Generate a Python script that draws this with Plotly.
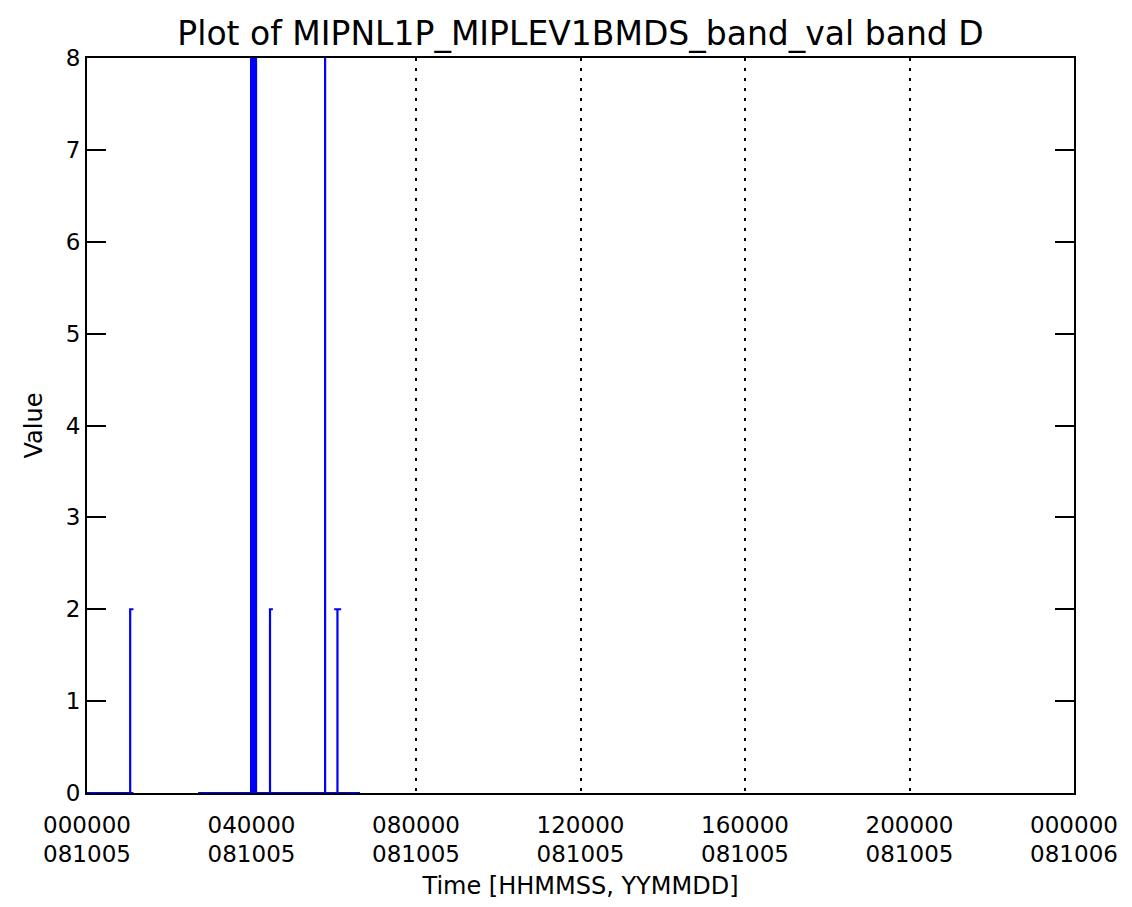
import plotly.graph_objects as go

# band value samples, time in hours since 081005 000000 (None = data gap)
time_hours = [
    0.0, 1.05, 1.05, 1.13, 1.05, 1.05, 1.13,
    None,
    2.70, 3.99, 3.99, 4.03, 4.03, 4.07, 4.07, 4.11, 4.11,
    4.45, 4.45, 4.52, 4.45, 4.45,
    5.79, 5.79, 5.79,
    6.09, 6.09, 6.01, 6.18, 6.09, 6.09, 6.64,
]
band_values = [
    0, 0, 2, 2, 2, 0, 0,
    None,
    0, 0, 8, 8, 0, 0, 8, 8, 0,
    0, 2, 2, 2, 0,
    0, 8, 0,
    0, 2, 2, 2, 2, 0, 0,
]

tick_hours = [0, 4, 8, 12, 16, 20, 24]
tick_times = ["000000", "040000", "080000", "120000", "160000", "200000", "000000"]
tick_dates = ["081005", "081005", "081005", "081005", "081005", "081005", "081006"]
value_ticks = [0, 1, 2, 3, 4, 5, 6, 7, 8]

FONT = "DejaVu Sans"

fig = go.Figure()
fig.add_trace(
    go.Scatter(
        x=time_hours,
        y=band_values,
        mode="lines",
        line={"color": "#0000ff", "width": 2.2},
        connectgaps=False,
        showlegend=False,
        hoverinfo="skip",
    )
)
# invisible helper so the date row axis gets drawn
fig.add_trace(
    go.Scatter(
        x=tick_hours,
        y=[0] * len(tick_hours),
        xaxis="x2",
        mode="markers",
        marker={"opacity": 0},
        showlegend=False,
        hoverinfo="skip",
    )
)

# page body adds an 8px offset, margins are compensated for it
fig.update_layout(
    width=1132,
    height=907,
    paper_bgcolor="white",
    plot_bgcolor="white",
    font={"family": FONT, "color": "black"},
    margin={"l": 79, "r": 66, "t": 50, "b": 122},
    title={
        "text": "Plot of MIPNL1P_MIPLEV1BMDS_band_val band D",
        "x": 0.5,
        "xanchor": "center",
        "xref": "paper",
        "y": 0.972,
        "yanchor": "middle",
        "font": {"size": 33, "family": FONT, "color": "black"},
    },
    xaxis={
        "range": [0, 24],
        "tickmode": "array",
        "tickvals": tick_hours,
        "ticktext": tick_times,
        "ticks": "",
        "tickfont": {"size": 23},
        "ticklabelstandoff": 10,
        "showgrid": True,
        "gridcolor": "black",
        "gridwidth": 2,
        "griddash": "3px,7px",
        "zeroline": False,
        "showline": True,
        "linecolor": "black",
        "linewidth": 2,
        "mirror": True,
        "layer": "below traces",
        "title": {"text": "Time [HHMMSS, YYMMDD]", "font": {"size": 24}, "standoff": 41},
    },
    # second row of the x tick labels (dates)
    xaxis2={
        "overlaying": "x",
        "anchor": "y",
        "side": "bottom",
        "range": [0, 24],
        "tickmode": "array",
        "tickvals": tick_hours,
        "ticktext": tick_dates,
        "ticks": "",
        "tickfont": {"size": 23},
        "ticklabelstandoff": 45,
        "showgrid": False,
        "showline": False,
        "zeroline": False,
    },
    yaxis={
        "range": [0, 8],
        "tickmode": "array",
        "tickvals": value_ticks,
        "ticks": "inside",
        "ticklen": 19,
        "tickwidth": 2,
        "tickcolor": "black",
        "tickfont": {"size": 23},
        "showgrid": False,
        "zeroline": False,
        "showline": True,
        "linecolor": "black",
        "linewidth": 2,
        "mirror": "ticks",
        "layer": "below traces",
        "title": {"text": "Value", "font": {"size": 24}, "standoff": 16},
    },
)

fig.write_html("out.html")
